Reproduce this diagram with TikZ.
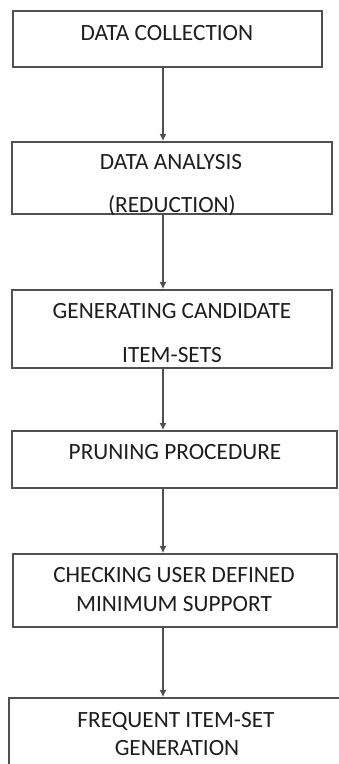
\documentclass[tikz,border=0pt]{standalone}
\usepackage{fontspec}
\setmainfont{Carlito}
\usetikzlibrary{arrows.meta}
\definecolor{edge}{HTML}{505050}
\definecolor{ink}{HTML}{1E1E1E}
\tikzset{
  box/.style={draw=edge, line width=1.8pt, rectangle, inner sep=0pt, fill=white},
  lbl/.style={anchor=base, inner sep=0pt, text=ink, font=\fontsize{23.3}{28}\selectfont},
  arr/.style={draw=edge, line width=1.5pt, -{Latex[length=7pt,width=7pt]}},
}
\begin{document}
\begin{tikzpicture}[x=1pt,y=-1pt]
\useasboundingbox (0,0) rectangle (339,764);
\clip (0,0) rectangle (339,764);
\fill[white] (0,0) rectangle (339,764);
\node[box, minimum width=309pt, minimum height=56pt] (b1) at (167.5,39) {};
\node[box, minimum width=320pt, minimum height=72pt] (b2) at (172,178) {};
\node[box, minimum width=320pt, minimum height=78pt] (b3) at (172,329) {};
\node[box, minimum width=325pt, minimum height=57pt] (b4) at (174.5,459.5) {};
\node[box, minimum width=324pt, minimum height=73pt] (b5) at (175,590.5) {};
\node[box, minimum width=336pt, minimum height=102pt] (b6) at (177,749) {};
\node[lbl] (t1) at (167,40) {DATA COLLECTION};
\node[lbl] (t2a) at (171,169) {DATA ANALYSIS};
\node[lbl] (t2b) at (172,212) {(REDUCTION)};
\node[lbl] (t3a) at (172,318) {GENERATING CANDIDATE};
\node[lbl] (t3b) at (172,362) {ITEM-SETS};
\node[lbl] (t4) at (175,459) {PRUNING PROCEDURE};
\node[lbl] (t5a) at (174,582) {CHECKING USER DEFINED};
\node[lbl] (t5b) at (174,611) {MINIMUM SUPPORT};
\node[lbl] (t6a) at (176,727) {FREQUENT ITEM-SET};
\node[lbl] (t6b) at (177,755) {GENERATION};
\coordinate (ax) at (163,0);
\draw[arr] (b1.south -| ax) -- (b2.north -| ax);
\draw[arr] (b2.south -| ax) -- (b3.north -| ax);
\draw[arr] (b3.south -| ax) -- (b4.north -| ax);
\draw[arr] (b4.south -| ax) -- (b5.north -| ax);
\draw[arr] (b5.south -| ax) -- (b6.north -| ax);
\end{tikzpicture}
\end{document}
